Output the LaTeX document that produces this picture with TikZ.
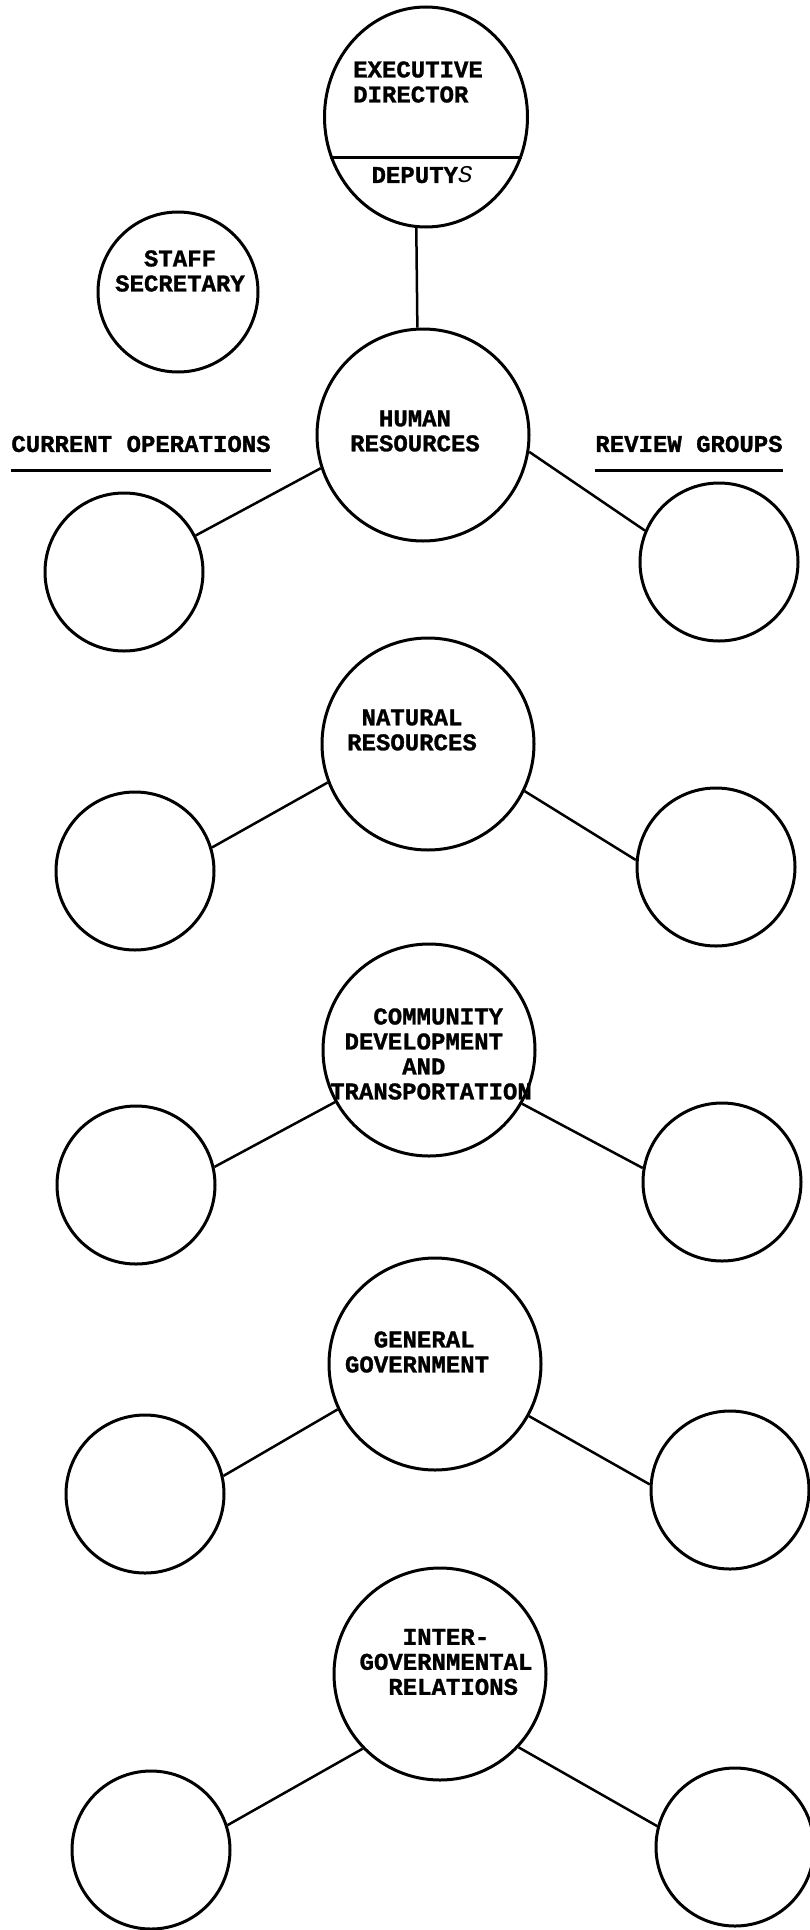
\documentclass[tikz,border=0pt]{standalone}
\usepackage{fontspec}
\setmonofont{Liberation Mono}[BoldFeatures={FakeBold=1.2}]
\usetikzlibrary{shapes.geometric}

\begin{document}
\begin{tikzpicture}[x=1pt, y=-1pt,
	dept/.style={draw, circle, line width=3pt, minimum size=212pt, inner sep=0pt},
	sub/.style={draw, circle, line width=3pt, minimum size=158pt, inner sep=0pt},
	txt/.style={font=\ttfamily\bfseries\fontsize{24}{25}\selectfont, inner sep=0pt},
	link/.style={line width=2.5pt}]

			\path[use as bounding box, fill=white] (0,0) rectangle (809,1930);

			\node[draw, ellipse, line width=3pt, minimum width=203pt, minimum height=220pt] (exec) at (426,117) {};
			\node[sub, minimum size=160pt] (staff) at (178,292) {};

			\node[dept] (d1) at (423,435) {};
			\node[dept] (d2) at (428,744) {};
			\node[dept] (d3) at (429,1050) {};
			\node[dept] (d4) at (435,1364) {};
			\node[dept] (d5) at (440,1674) {};

			\node[sub] (c1) at (124,572) {};
			\node[sub] (c2) at (135,871) {};
			\node[sub] (c3) at (136,1185) {};
			\node[sub] (c4) at (145,1494) {};
			\node[sub] (c5) at (151,1850) {};

			\node[sub] (r1) at (719,562) {};
			\node[sub] (r2) at (716,867) {};
			\node[sub] (r3) at (722,1182) {};
			\node[sub] (r4) at (730,1490) {};
			\node[sub] (r5) at (735,1847) {};

			\node[txt, align=left] (exect) at (418,82) {EXECUTIVE\\DIRECTOR};
			\node[txt] (dept) at (422,175) {DEPUTY\textmd{\textit{S}}};
			\node[txt, align=center] (stafft) at (180,271) {STAFF\\SECRETARY};
			\node[txt, align=center] (d1t) at (415,431) {HUMAN\\RESOURCES};
			\node[txt, align=center] (d2t) at (412,730) {NATURAL\\RESOURCES};
			\node[txt, align=left] (d3t) at (431,1054) {\phantom{XXX}COMMUNITY\\\phantom{X}DEVELOPMENT\\\phantom{XXXXX}AND\\TRANSPORTATION};
			\node[txt, align=left] (d4t) at (417,1352) {\phantom{XX}GENERAL\\GOVERNMENT};
			\node[txt, align=left] (d5t) at (446,1662) {\phantom{XXX}INTER-\\GOVERNMENTAL\\\phantom{XX}RELATIONS};

			\node[txt] (co) at (141,444) {CURRENT OPERATIONS};
			\node[txt] (rg) at (689,444) {REVIEW GROUPS};

			\draw[link] ([yshift=-18pt]co.south west) -- ([yshift=-18pt]co.south east);
			\draw[link] ([yshift=-18pt]rg.south west) -- ([yshift=-18pt]rg.south east);

			\draw[link] (exec.203) -- (exec.337);
			\draw[link] (exec.265) -- (d1.93);

			\draw[link] (d1.198) -- (c1.27);
			\draw[link] (d1.351) -- (r1.157);
			\draw[link] (d2.201) -- (c2.17);
			\draw[link] (d2.334) -- (r2.175);
			\draw[link] (d3.209) -- (c3.13);
			\draw[link] (d3.330) -- (r3.170);
			\draw[link] (d4.205) -- (c4.13);
			\draw[link] (d4.331) -- (r4.176);
			\draw[link] (d5.224) -- (c5.18);
			\draw[link] (d5.317) -- (r5.165);

		\end{tikzpicture}
\end{document}
